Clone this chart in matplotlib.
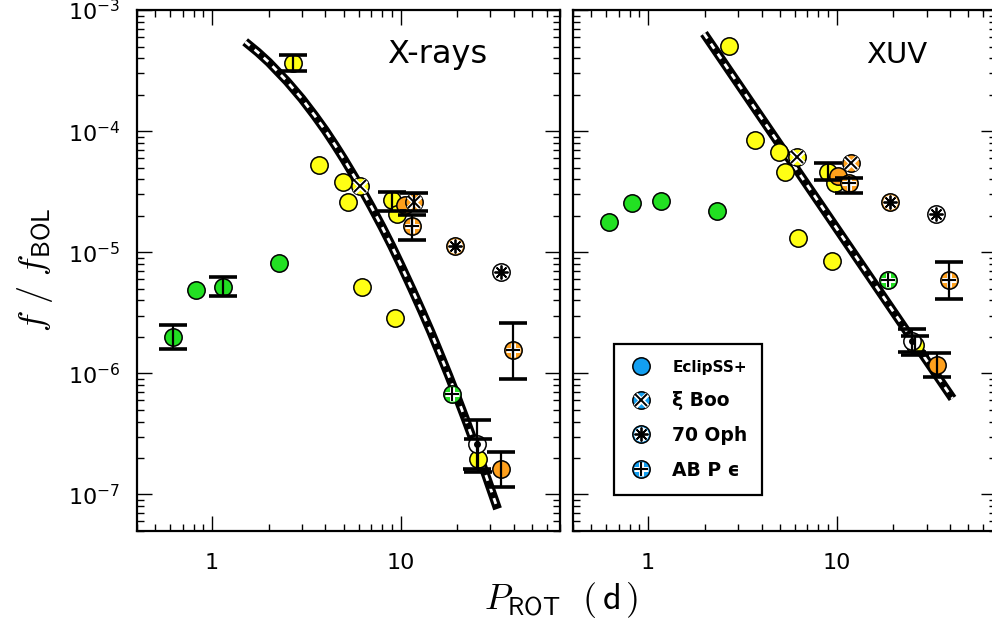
#!/usr/bin/python3

import numpy as np

import matplotlib
matplotlib.use('Agg')
from matplotlib import pyplot as plt
from matplotlib import ticker as mticker
from matplotlib.lines import Line2D
from matplotlib.legend_handler import HandlerTuple

plt.rcParams['mathtext.fontset'] = 'cm'

GREEN  = '#22e022'
YELLOW = '#ffff14'
ORANGE = '#ffa01c'
BLUE   = '#139ff0'

# ---- X-ray panel: points (period [d], f/f_bol, colour, inner symbol)
xr_p   = [0.62, 0.82, 1.15, 2.28,
          2.69, 3.68, 4.96, 5.27, 9.03, 9.6, 6.25, 9.4, 25.9,
          6.13, 10.6, 11.8, 11.5, 19.4, 34.3, 39.7, 34.0, 18.8, 25.4]
xr_f   = [2.0e-6, 4.9e-6, 5.2e-6, 8.1e-6,
          3.63e-4, 5.24e-5, 3.81e-5, 2.61e-5, 2.69e-5, 2.05e-5, 5.16e-6, 2.88e-6, 1.97e-7,
          3.51e-5, 2.44e-5, 2.61e-5, 1.64e-5, 1.13e-5, 1.61e-7, 1.55e-6, 6.87e-6, 6.79e-7, 2.62e-7]
xr_col = ['g', 'g', 'g', 'g',
          'y', 'y', 'y', 'y', 'y', 'y', 'y', 'y', 'y',
          'y', 'o', 'o', 'o', 'o', 'o', 'o', 'w', 'g', 'w']
xr_sym = ['', '', '', '',
          '', '', '', '', '', '', '', '', '',
          'x', '', 'x', '+', '*', '', '+', '*', '+', 'sun']
# error bars: period, value, upper, lower
xr_err_p  = [0.62, 1.15, 2.69, 9.03, 11.8, 11.5, 39.7, 25.4, 25.9, 34.3]
xr_err_f  = [2.0e-6, 5.2e-6, 3.63e-4, 2.69e-5, 2.61e-5, 1.64e-5, 1.55e-6, 2.62e-7, 1.97e-7, 1.61e-7]
xr_err_hi = [2.49e-6, 6.25e-6, 4.24e-4, 3.15e-5, 3.06e-5, 2.02e-5, 2.62e-6, 4.14e-7, 2.85e-7, 2.24e-7]
xr_err_lo = [1.60e-6, 4.35e-6, 3.13e-4, 2.19e-5, 2.19e-5, 1.26e-5, 9.03e-7, 1.63e-7, 1.53e-7, 1.15e-7]
# fit curve
xr_fit_p = [1.5, 1.75, 2.0, 2.5, 3.0, 3.5, 4.0, 4.5, 5.0, 6.0, 7.0, 8.0, 9.0, 10,
            11.5, 13, 14.5, 16, 18, 20, 22.5, 25, 28.5, 32.7]
xr_fit_f = [5.47e-4, 4.49e-4, 3.71e-4, 2.58e-4, 1.85e-4, 1.35e-4, 1.01e-4, 7.65e-5,
            5.9e-5, 3.67e-5, 2.38e-5, 1.61e-5, 1.12e-5, 7.94e-6, 4.96e-6, 3.24e-6,
            2.19e-6, 1.51e-6, 9.61e-7, 6.3e-7, 3.89e-7, 2.49e-7, 1.41e-7, 7.6e-8]

# ---- XUV panel
xu_p   = [0.624, 0.826, 1.17, 2.31,
          2.69, 3.68, 4.96, 5.31, 9.0, 9.76, 6.24, 9.44, 25.9,
          6.17, 10.2, 11.96, 11.6, 19.3, 34.1, 39.6, 33.7, 18.8, 25.1]
xu_f   = [1.78e-5, 2.55e-5, 2.65e-5, 2.18e-5,
          5.03e-4, 8.43e-5, 6.74e-5, 4.56e-5, 4.56e-5, 3.70e-5, 1.30e-5, 8.47e-6, 1.70e-6,
          6.14e-5, 4.25e-5, 5.41e-5, 3.70e-5, 2.61e-5, 1.18e-6, 5.94e-6, 2.05e-5, 5.94e-6, 1.85e-6]
xu_col = xr_col
xu_sym = xr_sym
xu_err_p  = [9.0, 11.6, 39.6, 25.1, 25.9, 34.1]
xu_err_f  = [4.56e-5, 3.70e-5, 5.94e-6, 1.85e-6, 1.70e-6, 1.18e-6]
xu_err_hi = [5.41e-5, 4.11e-5, 8.3e-6, 2.34e-6, 2.02e-6, 1.48e-6]
xu_err_lo = [3.94e-5, 3.10e-5, 4.14e-6, 1.50e-6, 1.41e-6, 9.3e-7]
xu_fit_p = [1.98, 41.2]
xu_fit_f = [6.4e-4, 6.2e-7]

legend_labels = ['EclipSS+', '\u03be Boo', '70 Oph', 'AB P \u03f5']

COLS = {'g': GREEN, 'y': YELLOW, 'o': ORANGE, 'w': 'white', 'b': BLUE}
MS = 12.5


def draw_symbol(ax, p, f, sym, z):
    if sym == 'x':
        ax.plot(p, f, 'x', ms=8, mew=3.6, color='white', zorder=z)
        ax.plot(p, f, 'x', ms=8, mew=1.4, color='black', zorder=z)
    elif sym == '+':
        ax.plot(p, f, '+', ms=10, mew=3.6, color='white', zorder=z)
        ax.plot(p, f, '+', ms=10, mew=1.5, color='black', zorder=z)
    elif sym == '*':
        ax.plot(p, f, marker=(8, 2, 0), ms=10, mew=3.0, color='white', zorder=z)
        ax.plot(p, f, marker=(8, 2, 0), ms=10, mew=1.3, color='black', zorder=z)
    elif sym == 'sun':
        ax.plot(p, f, 'o', ms=4, color='black', zorder=z)


def panel(ax, p, f, col, sym, ep, ef, ehi, elo, fp, ff, name, namex, namesize):
    ax.plot(fp, ff, '-', color='black', lw=6.5, solid_capstyle='butt',
            solid_joinstyle='round', zorder=1)
    ax.plot(fp, ff, '-', color='white', lw=2.0, dashes=(2.2, 2.2),
            dash_capstyle='butt', zorder=1.1)
    for i in range(len(p)):
        z = 2 + 0.01 * i
        ax.plot(p[i], f[i], 'o', ms=MS, mfc=COLS[col[i]], mec='black', mew=1.1, zorder=z)
        draw_symbol(ax, p[i], f[i], sym[i], z + 0.005)
    ef = np.array(ef)
    ax.errorbar(ep, ef, yerr=[ef - np.array(elo), np.array(ehi) - ef], fmt='none',
                ecolor='black', elinewidth=1.6, capsize=10, capthick=2.6, zorder=3)
    ax.set_xscale('log')
    ax.set_yscale('log')
    ax.set_xlim(0.4, 70)
    ax.set_ylim(5e-8, 1e-3)
    ax.set_xticks([1, 10], ['1', '10'])
    ax.xaxis.set_minor_locator(mticker.LogLocator(subs=np.arange(2, 10)))
    ax.xaxis.set_minor_formatter(mticker.NullFormatter())
    ax.yaxis.set_minor_locator(mticker.LogLocator(subs=np.arange(2, 10)))
    ax.yaxis.set_minor_formatter(mticker.NullFormatter())
    ax.tick_params(which='both', direction='in', top=True, right=True, labelsize=16)
    ax.tick_params(which='major', length=11, width=1.0, pad=12)
    ax.tick_params(axis='x', which='major', pad=16)
    ax.tick_params(which='minor', length=5, width=1.0)
    for s in ax.spines.values():
        s.set_linewidth(1.6)
    ax.text(namex, 0.914, name, transform=ax.transAxes, fontsize=namesize,
            ha='center', va='center')


def main():
    fig = plt.figure(figsize=(9.92, 6.29), dpi=100)
    ax1 = fig.add_axes([0.138, 0.156, 0.4264, 0.828])
    ax2 = fig.add_axes([0.5776, 0.156, 0.4264, 0.828])

    panel(ax1, xr_p, xr_f, xr_col, xr_sym, xr_err_p, xr_err_f, xr_err_hi, xr_err_lo,
          xr_fit_p, xr_fit_f, 'X-rays', 0.71, 23)
    panel(ax2, xu_p, xu_f, xu_col, xu_sym, xu_err_p, xu_err_f, xu_err_hi, xu_err_lo,
          xu_fit_p, xu_fit_f, 'XUV', 0.766, 21)
    ax2.set_yticklabels([])

    # legend
    circ = Line2D([], [], ls='none', marker='o', ms=MS, mfc=BLUE, mec='black', mew=1.1)
    def sym(m, ms, w1, w2):
        return (Line2D([], [], ls='none', marker=m, ms=ms, mew=w1, color='white'),
                Line2D([], [], ls='none', marker=m, ms=ms, mew=w2, color='black'))
    handles = [circ, (circ,) + sym('x', 8, 3.6, 1.4), (circ,) + sym((8, 2, 0), 10, 3.0, 1.3),
               (circ,) + sym('+', 10, 3.6, 1.5)]
    leg = ax2.legend(handles, legend_labels, loc='lower left', bbox_to_anchor=(0.097, 0.069),
                     borderaxespad=0, fancybox=False, framealpha=1, edgecolor='black',
                     handler_map={tuple: HandlerTuple(ndivide=1, pad=0)},
                     prop={'weight': 'bold', 'size': 13.5}, handlelength=1.3,
                     handletextpad=1.0, borderpad=0.8, labelspacing=0.85)
    leg.get_frame().set_linewidth(1.6)
    leg.get_texts()[0].set_fontsize(11)

    fig.text(0.035, 0.571, r'$f\ /\ f_{\mathsf{BOL}}$', rotation=90, fontsize=26,
             ha='center', va='center')
    fig.text(0.566, 0.046, r'$P_{\mathsf{ROT}}\ \ \mathsf{(\,d\,)}$', fontsize=26,
             ha='center', va='center')

    fig.savefig('out.png', dpi=100)
    plt.close()


if __name__ == '__main__': main()
